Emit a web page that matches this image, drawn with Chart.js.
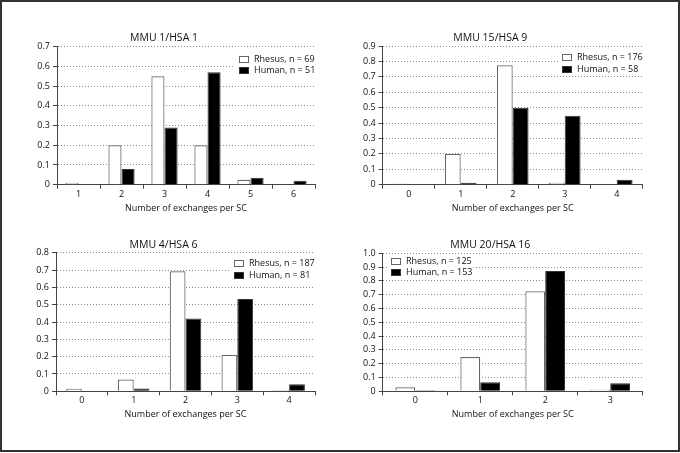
<!DOCTYPE html>
<html><head><meta charset="utf-8">
<script src="https://cdn.jsdelivr.net/npm/chart.js@4"></script>
<style>
html,body{margin:0;padding:0;background:#fff;}
body{position:relative;width:680px;height:453px;overflow:hidden;}
#frame{position:absolute;left:0;top:0;width:680px;height:452px;box-sizing:border-box;border:2px solid #333;}
canvas{position:absolute;}
</style></head><body>
<div id="frame"></div>
<canvas id="c1"></canvas><canvas id="c2"></canvas><canvas id="c3"></canvas><canvas id="c4"></canvas>
<script>
// ---------- data ----------
const xTitle = 'Number of exchanges per SC';

const titleA = 'MMU 1/HSA 1';
const catsA = ['1', '2', '3', '4', '5', '6'];
const rhesusA = [0.01, 0.2, 0.55, 0.2, 0.025, 0];
const humanA = [0, 0.08, 0.29, 0.57, 0.035, 0.02];
const nRhesusA = 69, nHumanA = 51;
const yMaxA = 0.7;

const titleB = 'MMU 15/HSA 9';
const catsB = ['0', '1', '2', '3', '4'];
const rhesusB = [0.006, 0.2, 0.775, 0.012, 0];
const humanB = [0, 0.012, 0.5, 0.447, 0.032];
const nRhesusB = 176, nHumanB = 58;
const yMaxB = 0.9;

const titleC = 'MMU 4/HSA 6';
const catsC = ['0', '1', '2', '3', '4'];
const rhesusC = [0.015, 0.068, 0.693, 0.21, 0.008];
const humanC = [0, 0.016, 0.42, 0.533, 0.04];
const nRhesusC = 187, nHumanC = 81;
const yMaxC = 0.8;

const titleD = 'MMU 20/HSA 16';
const catsD = ['0', '1', '2', '3'];
const rhesusD = [0.029, 0.248, 0.725, 0.012];
const humanD = [0.007, 0.065, 0.871, 0.058];
const nRhesusD = 125, nHumanD = 153;
const yMaxD = 1.0;

// ---------- style ----------
const FONT = '"Open Sans"';
const TXT = '#111';
const AXIS = '#444';

const legendPlugin = {
  id: 'boxLegend',
  afterDraw(chart, args, o) {
    const {ctx, chartArea} = chart;
    ctx.save();
    ctx.font = o.size + 'px ' + FONT;
    ctx.textBaseline = 'middle';
    const dsets = chart.data.datasets;
    let maxW = 0;
    dsets.forEach(d => { maxW = Math.max(maxW, ctx.measureText(d.label).width); });
    const x = Math.round(o.fromRight ? chartArea.right - maxW - 15 : chartArea.left + o.dx);
    const y0 = chartArea.top + o.dy[0], y1 = chartArea.top + o.dy[1];
    ctx.fillStyle = '#fff';
    ctx.fillRect(x - 4, y0 - 5, maxW + 20, y1 - y0 + 10);
    dsets.forEach((d, i) => {
      const y = Math.round(chartArea.top + o.dy[i]);
      ctx.fillStyle = d.backgroundColor;
      ctx.fillRect(x, y - 3, 10, 7);
      ctx.strokeStyle = d.borderColor;
      ctx.lineWidth = 1;
      ctx.strokeRect(x + 0.5, y - 2.5, 9, 6);
      ctx.fillStyle = TXT;
      ctx.fillText(d.label, x + 15, y + 0.5);
    });
    ctx.restore();
  }
};

function makePanel(id, g, title, cats, rh, hu, nR, nH, yMax, leg) {
  const titleSize = 10.5, tickSize = 9, axTitleSize = 9;
  const yW0 = 44;
  const cLeft = Math.floor(g.left) - yW0;
  const yW = g.left - cLeft;
  const cTop = Math.floor(g.titleY - 12);
  const cRight = Math.ceil(g.right + yW);
  const cBottom = Math.ceil(g.bottom + 34);
  const cv = document.getElementById(id);
  cv.style.left = cLeft + 'px';
  cv.style.top = cTop + 'px';
  cv.width = cRight - cLeft;
  cv.height = cBottom - cTop;
  const xH = cBottom - g.bottom;
  const lh = titleSize * 1.2;
  const tPadTop = g.titleY - cTop - lh / 2;
  const tPadBot = g.top - g.titleY - lh / 2;
  const axLh = axTitleSize * 1.2;
  const axPadBot = xH - g.axTitleDy - axLh / 2;

  new Chart(cv, {
    type: 'bar',
    data: {
      labels: cats,
      datasets: [
        {label: 'Rhesus, n = ' + nR, data: rh, backgroundColor: '#ffffff', borderColor: '#666666', borderWidth: 1.2},
        {label: 'Human, n = ' + nH, data: hu, backgroundColor: '#000000', borderColor: '#333333', borderWidth: 1}
      ]
    },
    options: {
      responsive: false,
      animation: false,
      devicePixelRatio: 1,
      layout: {padding: {left: 0, top: 0, right: cRight - g.right, bottom: 0}},
      datasets: {bar: {categoryPercentage: 0.61, barPercentage: 1.0}},
      plugins: {
        legend: {display: false},
        tooltip: {enabled: false},
        title: {display: true, text: title, color: TXT,
          font: {family: FONT, size: titleSize, weight: 'normal', lineHeight: 1.2},
          padding: {top: tPadTop, bottom: tPadBot}},
        boxLegend: leg
      },
      scales: {
        x: {
          ticks: {font: {family: FONT, size: tickSize}, color: TXT, padding: 0, autoSkip: false, maxRotation: 0},
          grid: {drawOnChartArea: false, drawTicks: true, tickLength: 4, tickColor: AXIS, tickWidth: 1, offset: true},
          border: {display: true, color: AXIS, width: 1},
          title: {display: true, text: xTitle, color: TXT,
            font: {family: FONT, size: axTitleSize, lineHeight: 1.2}, padding: {top: 0, bottom: axPadBot}},
          afterFit: s => { s.height = xH; }
        },
        y: {
          min: 0, max: yMax,
          ticks: {stepSize: 0.1, autoSkip: false, font: {family: FONT, size: tickSize, lineHeight: 1.0}, color: TXT, padding: 3,
            callback: v => (Math.abs(v) < 1e-9 ? '0' : Number(v).toFixed(1))},
          grid: {color: c => (c.tick && Math.abs(c.tick.value) < 1e-9 ? 'rgba(0,0,0,0)' : '#8a8a8a'),
            lineWidth: 1, drawTicks: true, tickLength: 4, tickColor: AXIS, tickWidth: 1, tickBorderDash: []},
          border: {display: true, color: AXIS, width: 1, dash: [1, 2]},
          afterFit: s => { s.width = yW; }
        }
      }
    },
    plugins: [legendPlugin]
  });
}

makePanel('c1', {left: 57, right: 315, top: 46.7, bottom: 184.7, titleY: 38.3, axTitleDy: 23.5},
  titleA, catsA, rhesusA, humanA, nRhesusA, nHumanA, yMaxA, {fromRight: true, dx: 0, dy: [12, 23.5], size: 9});
makePanel('c2', {left: 382.7, right: 642.7, top: 46, bottom: 184.7, titleY: 38.3, axTitleDy: 23.5},
  titleB, catsB, rhesusB, humanB, nRhesusB, nHumanB, yMaxB, {fromRight: true, dx: 0, dy: [11, 23], size: 9});
makePanel('c3', {left: 56, right: 315, top: 252.7, bottom: 391.3, titleY: 245.3, axTitleDy: 23.5},
  titleC, catsC, rhesusC, humanC, nRhesusC, nHumanC, yMaxC, {fromRight: true, dx: 0, dy: [10, 22.3], size: 9});
makePanel('c4', {left: 382.7, right: 642.7, top: 253.3, bottom: 391.3, titleY: 245.3, axTitleDy: 23.5},
  titleD, catsD, rhesusD, humanD, nRhesusD, nHumanD, yMaxD, {fromRight: false, dx: 8, dy: [7.5, 19], size: 9});
</script>
</body></html>
